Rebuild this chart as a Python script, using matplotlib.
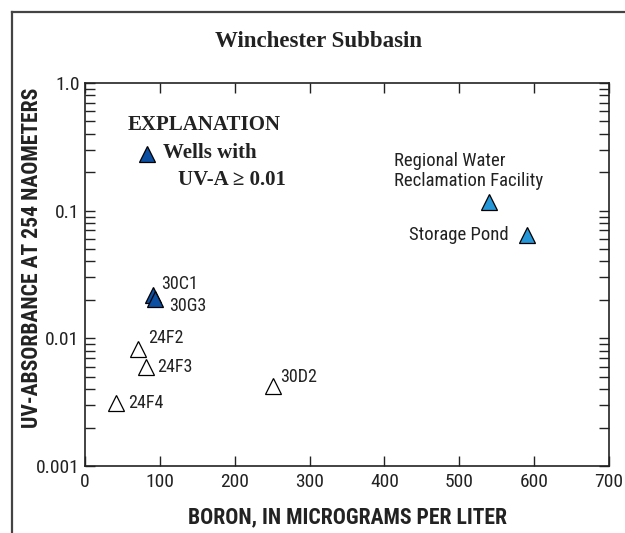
import matplotlib.pyplot as plt
from matplotlib import font_manager
from matplotlib.lines import Line2D
from matplotlib.ticker import FixedLocator, LogLocator, NullFormatter, FixedFormatter

# Wells with UV-A >= 0.01 (dark blue)
wells_hi_names = ['30C1', '30G3']
wells_hi_boron = [91, 93]
wells_hi_uva = [0.022, 0.0205]

# Wells below 0.01 (open triangles)
wells_lo_names = ['24F2', '24F3', '24F4', '30D2']
wells_lo_boron = [71, 82, 41, 251]
wells_lo_uva = [0.0083, 0.006, 0.0031, 0.0042]

# Reclamation facility sources (light blue)
facility_names = ['Regional Water\nReclamation Facility', 'Storage Pond']
facility_boron = [540, 590]
facility_uva = [0.117, 0.065]

y_ticks = [0.001, 0.01, 0.1, 1.0]
y_tick_labels = ['0.001', '0.01', '0.1', '1.0']
x_ticks = [0, 100, 200, 300, 400, 500, 600, 700]

DARK_BLUE = '#0b4ea2'
LIGHT_BLUE = '#2596d8'
INK = '#222222'

# pick the narrowest sans family that is installed
installed = {f.name for f in font_manager.fontManager.ttflist}
narrow_name = next((n for n in ['Liberation Sans Narrow', 'Roboto Condensed',
                                'Open Sans Condensed', 'Roboto']
                    if n in installed), 'DejaVu Sans')
NARROW = [narrow_name, 'DejaVu Sans']
SERIF = ['Liberation Serif', 'DejaVu Serif']

fig = plt.figure(figsize=(6.25, 5.33), dpi=100)
ax = fig.add_axes([0.136, 0.1257, 0.8384, 0.7186])

marker_kw = dict(marker='^', markersize=11, markeredgecolor='black',
                 markeredgewidth=0.9, linestyle='none')
ax.plot(wells_lo_boron, wells_lo_uva, markerfacecolor='white', **marker_kw)
ax.plot(wells_hi_boron, wells_hi_uva, markerfacecolor=DARK_BLUE, **marker_kw)
ax.plot(facility_boron, facility_uva, markerfacecolor=LIGHT_BLUE, **marker_kw)

ax.set_yscale('log')
ax.set_xlim(0, 700)
ax.set_ylim(0.001, 1.0)

ax.xaxis.set_major_locator(FixedLocator(x_ticks))
ax.yaxis.set_major_locator(FixedLocator(y_ticks))
ax.yaxis.set_major_formatter(FixedFormatter(y_tick_labels))
ax.yaxis.set_minor_locator(LogLocator(base=10, subs=range(2, 10)))
ax.yaxis.set_minor_formatter(NullFormatter())
ax.tick_params(which='both', direction='in', length=7.5, width=1,
               top=True, right=True, color=INK)
ax.tick_params(axis='x', pad=5)
ax.tick_params(axis='y', pad=4)
for lbl in ax.get_xticklabels() + ax.get_yticklabels():
    lbl.set_family(NARROW)
    lbl.set_fontsize(14)
    lbl.set_color(INK)
for sp in ax.spines.values():
    sp.set_linewidth(1.2)
    sp.set_color(INK)

ax.set_xlabel('BORON, IN MICROGRAMS PER LITER', family=NARROW,
              fontsize=15.6, fontweight='bold', color=INK)
ax.set_ylabel('UV-ABSORBANCE AT 254 NAOMETERS', family=NARROW,
              fontsize=15.6, fontweight='bold', color=INK)
ax.xaxis.set_label_coords(0.5, -0.105)
ax.yaxis.set_label_coords(-0.080, 0.543)

fig.text(0.51, 0.923, 'Winchester Subbasin', family=SERIF, fontsize=16.5,
         fontweight='bold', ha='center', va='center', color=INK)

# point labels, offsets in pixels
lbl_kw = dict(textcoords='offset pixels', family=NARROW, color=INK, va='center')
hi_offsets = [(8, 11), (15, -7)]
for name, x, y, off in zip(wells_hi_names, wells_hi_boron, wells_hi_uva, hi_offsets):
    ax.annotate(name, (x, y), xytext=off, ha='left', fontsize=13, **lbl_kw)
lo_offsets = [(10, 11), (11, 0), (12, 0), (7, 9)]
for name, x, y, off in zip(wells_lo_names, wells_lo_boron, wells_lo_uva, lo_offsets):
    ax.annotate(name, (x, y), xytext=off, ha='left', fontsize=13, **lbl_kw)
ax.annotate(facility_names[0], (facility_boron[0], facility_uva[0]),
            xytext=(-21, 31), ha='center', multialignment='left',
            fontsize=13.5, **lbl_kw)
ax.annotate(facility_names[1], (facility_boron[1], facility_uva[1]),
            xytext=(-18, 0), ha='right', fontsize=13.5, **lbl_kw)

# explanation block
ax.text(0.082, 0.890, 'EXPLANATION', transform=ax.transAxes, family=SERIF,
        fontsize=15, fontweight='bold', ha='left', va='center', color=INK)
ax.plot([0.118], [0.815], transform=ax.transAxes, marker='^', markersize=11,
        markerfacecolor=DARK_BLUE, markeredgecolor='black', markeredgewidth=0.9,
        linestyle='none')
ax.text(0.148, 0.817, 'Wells with', transform=ax.transAxes, family=SERIF,
        fontsize=15, fontweight='bold', ha='left', va='center', color=INK)
ax.text(0.177, 0.747, 'UV-A \u2265 0.01', transform=ax.transAxes, family=SERIF,
        fontsize=15, fontweight='bold', ha='left', va='center', color=INK)

# outer frame (left and top edges)
x0, y1 = 12 / 625, 1 - 12 / 533
fig.add_artist(Line2D([x0, x0], [0, y1], color='#444444', linewidth=1.6))
fig.add_artist(Line2D([x0, 1], [y1, y1], color='#444444', linewidth=1.6))

fig.savefig('out.png', dpi=100)
